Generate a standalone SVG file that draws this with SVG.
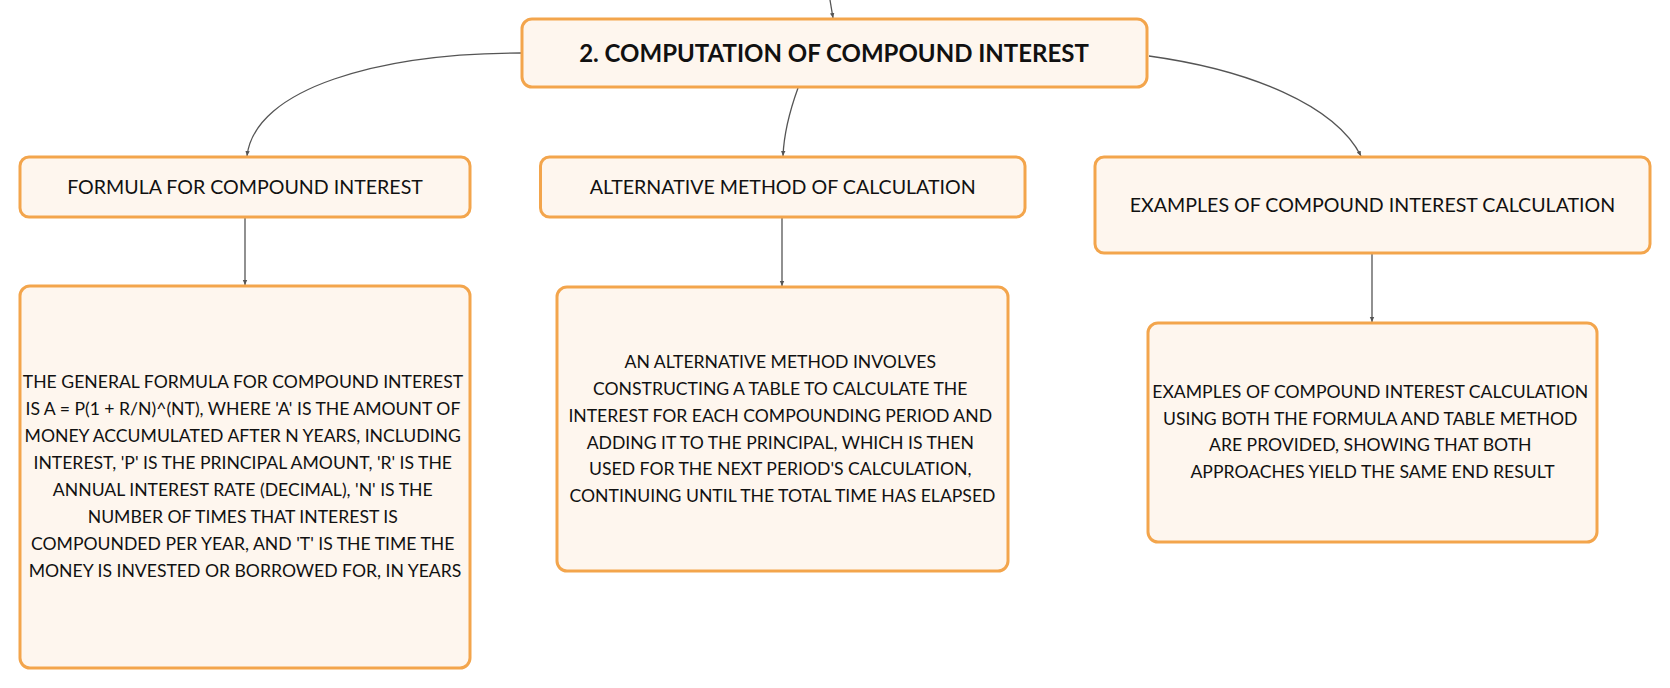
<svg xmlns="http://www.w3.org/2000/svg" width="1670" height="688" viewBox="0 0 1670 688">
<style>
.box{fill:#FEF6EE;stroke:#F3A54C;stroke-width:3}
.conn{fill:none;stroke:#555;stroke-width:1.3}
.t{font-family:Lato,"Noto Sans","Liberation Sans",sans-serif;fill:#111;text-anchor:middle}
.root{font-size:24px;font-weight:bold}
.l1{font-size:19.6px}
.body{font-size:17.6px}
</style>
<defs>
<marker id="arr" viewBox="0 0 6 6" refX="5" refY="3" markerWidth="6" markerHeight="6" orient="auto" markerUnits="userSpaceOnUse">
<path d="M0,0.8 L5,3 L0,5.2 Z" fill="#555"/>
</marker>
</defs>
<g id="connectors">
<path class="conn" d="M830,0 L833,18" marker-end="url(#arr)"/>
<path class="conn" d="M522,53 C380,53 255,88 247,156" marker-end="url(#arr)"/>
<path class="conn" d="M798,88 C790,110 784,132 783,156" marker-end="url(#arr)"/>
<path class="conn" d="M1149,56 C1250,70 1335,105 1361,156" marker-end="url(#arr)"/>
<path class="conn" d="M245,218 L245,285" marker-end="url(#arr)"/>
<path class="conn" d="M782,218 L782,286" marker-end="url(#arr)"/>
<path class="conn" d="M1372,254 L1372,322" marker-end="url(#arr)"/>
</g>
<g id="root">
<rect class="box" x="522" y="19" width="625" height="68" rx="10"/>
<text class="t root" x="834" y="62">2. COMPUTATION OF COMPOUND INTEREST</text>
</g>
<g id="formula">
<rect class="box" x="20" y="157" width="450" height="60" rx="9"/>
<text class="t l1" x="245" y="194">FORMULA FOR COMPOUND INTEREST</text>
</g>
<g id="alternative">
<rect class="box" x="540.5" y="157" width="484.5" height="60" rx="9"/>
<text class="t l1" x="782.7" y="194">ALTERNATIVE METHOD OF CALCULATION</text>
</g>
<g id="examples">
<rect class="box" x="1095" y="157" width="555" height="96" rx="9"/>
<text class="t l1" x="1372.5" y="212">EXAMPLES OF COMPOUND INTEREST CALCULATION</text>
</g>
<g id="formula-detail">
<rect class="box" x="20" y="286" width="450" height="382" rx="10"/>
<text class="t body">
<tspan x="245" y="388">THE GENERAL FORMULA FOR COMPOUND INTEREST</tspan>
<tspan x="245" y="415">IS A = P(1 + R/N)^(NT), WHERE 'A' IS THE AMOUNT OF</tspan>
<tspan x="245" y="442">MONEY ACCUMULATED AFTER N YEARS, INCLUDING</tspan>
<tspan x="245" y="469">INTEREST, 'P' IS THE PRINCIPAL AMOUNT, 'R' IS THE</tspan>
<tspan x="245" y="496">ANNUAL INTEREST RATE (DECIMAL), 'N' IS THE</tspan>
<tspan x="245" y="523">NUMBER OF TIMES THAT INTEREST IS</tspan>
<tspan x="245" y="550">COMPOUNDED PER YEAR, AND 'T' IS THE TIME THE</tspan>
<tspan x="245" y="577">MONEY IS INVESTED OR BORROWED FOR, IN YEARS</tspan>
</text>
</g>
<g id="alternative-detail">
<rect class="box" x="557" y="287" width="451" height="284" rx="10"/>
<text class="t body">
<tspan x="782.5" y="368">AN ALTERNATIVE METHOD INVOLVES</tspan>
<tspan x="782.5" y="395">CONSTRUCTING A TABLE TO CALCULATE THE</tspan>
<tspan x="782.5" y="422">INTEREST FOR EACH COMPOUNDING PERIOD AND</tspan>
<tspan x="782.5" y="449">ADDING IT TO THE PRINCIPAL, WHICH IS THEN</tspan>
<tspan x="782.5" y="475">USED FOR THE NEXT PERIOD'S CALCULATION,</tspan>
<tspan x="782.5" y="502">CONTINUING UNTIL THE TOTAL TIME HAS ELAPSED</tspan>
</text>
</g>
<g id="examples-detail">
<rect class="box" x="1148" y="323" width="449" height="219" rx="10"/>
<text class="t body">
<tspan x="1372.5" y="398">EXAMPLES OF COMPOUND INTEREST CALCULATION</tspan>
<tspan x="1372.5" y="425">USING BOTH THE FORMULA AND TABLE METHOD</tspan>
<tspan x="1372.5" y="451">ARE PROVIDED, SHOWING THAT BOTH</tspan>
<tspan x="1372.5" y="478">APPROACHES YIELD THE SAME END RESULT</tspan>
</text>
</g>
</svg>
